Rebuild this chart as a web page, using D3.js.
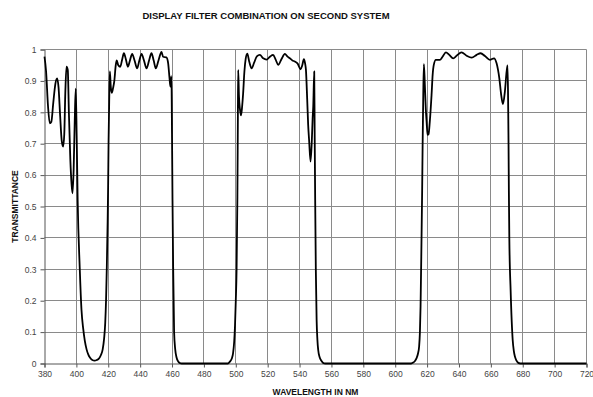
<!DOCTYPE html>
<html>
<head>
<meta charset="utf-8">
<script src="https://cdn.jsdelivr.net/npm/d3@7"></script>
<style>
  body { margin: 0; background: #fff; }
  text { font-family: "Liberation Sans", Arial, sans-serif; }
</style>
</head>
<body>
<div id="viz"></div>
<script>
// wavelength (nm) and transmittance
var nm = [
  380, 381, 382.2, 383.3, 384.3, 385.5, 386.8, 387.9, 388.8, 389.8, 390.8, 391.7, 392.4, 393.1, 393.8, 394.6,
  395.3, 396.2, 397.0, 397.6, 398.3, 399.0, 399.6, 400.2, 400.8, 402.1, 403.2, 404.3, 405.3, 406.4, 407.5,
  408.6, 410, 411.4, 412.8, 414.2, 415.4, 416.5, 417.4, 418.1, 418.6, 419.1, 419.6, 419.9, 420.2, 420.6,
  421.0, 421.6, 422.2, 423.0, 423.8, 424.7, 425.3, 426.3, 427.5, 428.8, 429.8, 431.0, 432.3, 433.6, 435.0,
  436.5, 438.1, 439.5, 440.9, 442.4, 444.0, 445.6, 447.1, 448.5, 449.8, 451.5, 453.4, 454.4, 456.5, 457.6,
  458.4, 459.0, 459.6, 460.0, 460.3, 460.7, 461.3, 462.0, 462.8, 463.8, 465, 466,
  495, 496.3, 497.5, 498.3, 499.0, 499.5, 500.0, 500.5, 501.0, 501.3, 501.5, 502.0, 502.6, 503.3, 504.0,
  504.6, 505.4, 506.2, 507.2, 508.5, 509.9, 511.5, 513.2, 515.1, 517.2, 519.3, 521.4, 523.4, 525.0, 526.6,
  528.7, 530.8, 532.3, 533.9, 535.5, 537.0, 538.8, 540.6, 541.7, 542.7, 543.5, 544.0, 544.8, 545.4, 546.0,
  546.9, 547.7, 548.2, 548.6, 549.2, 549.5, 549.8, 550.2, 550.7, 551.2, 551.7, 552.6, 553.8, 555, 556,
  610, 611.3, 612.4, 613.4, 614.3, 615.0, 615.5, 615.9, 616.5, 616.9, 617.2, 617.6, 618.0, 618.6, 619.2,
  619.7, 620.3, 620.9, 621.7, 622.8, 623.5, 624.2, 625.5, 628.0, 629.7, 631.8, 633.9, 636.4, 638.5, 641.6,
  644.8, 648.0, 651.1, 653.6, 656.3, 659.4, 662.0, 663.6, 664.5, 665.3, 666.5, 667.6, 668.8, 669.9, 670.5,
  670.9, 671.1, 671.3, 671.6, 672.4, 673.7, 674.4, 675.1, 676.0, 677.2, 678.5, 720
];
var trans = [
  0.977, 0.93, 0.82, 0.765, 0.77, 0.83, 0.89, 0.908, 0.88, 0.79, 0.71, 0.691, 0.73, 0.87, 0.945, 0.935,
  0.80, 0.65, 0.57, 0.542, 0.62, 0.78, 0.875, 0.72, 0.52, 0.305, 0.171, 0.11, 0.072, 0.045, 0.028,
  0.018, 0.011, 0.009, 0.011, 0.016, 0.027, 0.045, 0.08, 0.13, 0.2, 0.31, 0.45, 0.56, 0.71, 0.84,
  0.93, 0.88, 0.862, 0.877, 0.9, 0.95, 0.965, 0.95, 0.945, 0.97, 0.988, 0.97, 0.945, 0.965, 0.986,
  0.965, 0.94, 0.965, 0.986, 0.965, 0.94, 0.965, 0.988, 0.965, 0.94, 0.965, 0.992, 0.977, 0.975, 0.955,
  0.91, 0.882, 0.915, 0.72, 0.52, 0.309, 0.1, 0.045, 0.02, 0.007, 0.001, 0,
  0, 0.006, 0.016, 0.033, 0.07, 0.12, 0.2, 0.3, 0.53, 0.78, 0.935, 0.85, 0.81, 0.79, 0.82,
  0.86, 0.93, 0.97, 0.987, 0.96, 0.94, 0.958, 0.978, 0.983, 0.972, 0.968, 0.977, 0.983, 0.968, 0.951,
  0.97, 0.986, 0.978, 0.972, 0.965, 0.962, 0.955, 0.937, 0.95, 0.969, 0.955, 0.935, 0.84, 0.76, 0.71,
  0.643, 0.71, 0.78, 0.82, 0.93, 0.72, 0.52, 0.3, 0.139, 0.075, 0.043, 0.02, 0.008, 0.001, 0,
  0, 0.003, 0.008, 0.017, 0.032, 0.054, 0.1, 0.181, 0.394, 0.55, 0.696, 0.855, 0.953, 0.887, 0.81,
  0.77, 0.728, 0.73, 0.77, 0.855, 0.92, 0.951, 0.967, 0.967, 0.977, 0.991, 0.983, 0.972, 0.98, 0.991,
  0.98, 0.974, 0.983, 0.988, 0.979, 0.967, 0.972, 0.956, 0.935, 0.909, 0.855, 0.826, 0.866, 0.93, 0.949,
  0.802, 0.696, 0.55, 0.394, 0.234, 0.075, 0.04, 0.022, 0.01, 0.002, 0, 0
];
var xTicks = d3.range(380, 721, 20);
var yTicks = d3.range(0, 11).map(function(i) { return i / 10; });
var yTickLabels = ["0", "0.1", "0.2", "0.3", "0.4", "0.5", "0.6", "0.7", "0.8", "0.9", "1"];

var width = 593,
    height = 397;

var x = d3.scaleLinear().domain([380, 720]).range([44.5, 586.5]);
var y = d3.scaleLinear().domain([0, 1]).range([363.5, 49.5]);

var svg = d3.select("#viz").append("svg")
    .attr("width", width)
    .attr("height", height);

// title
svg.append("text")
    .attr("x", 266)
    .attr("y", 19)
    .attr("text-anchor", "middle")
    .style("font-size", "9.5px")
    .style("font-weight", "bold")
    .style("fill", "#111")
    .text("DISPLAY FILTER COMBINATION ON SECOND SYSTEM");

// grid
var px = function(v) { return Math.round(v - 0.5) + 0.5; };
svg.append("g").selectAll("line")
    .data(yTicks.slice(1))
    .join("line")
    .attr("x1", x(380)).attr("x2", x(720))
    .attr("y1", function(d) { return px(y(d)); })
    .attr("y2", function(d) { return px(y(d)); })
    .style("stroke", "#8a8a8a");

svg.append("g").selectAll("line")
    .data(xTicks.slice(1))
    .join("line")
    .attr("y1", y(0)).attr("y2", y(1))
    .attr("x1", function(d) { return px(x(d)); })
    .attr("x2", function(d) { return px(x(d)); })
    .style("stroke", "#8a8a8a");

// axes
var xAxis = svg.append("g")
    .attr("transform", "translate(0," + y(0) + ")")
    .call(d3.axisBottom(x).tickValues(xTicks).tickSize(4).tickPadding(3).tickFormat(d3.format("d")));
var yAxis = svg.append("g")
    .attr("transform", "translate(" + x(380) + ",0)")
    .call(d3.axisLeft(y).tickValues(yTicks).tickSize(4).tickPadding(4)
      .tickFormat(function(d, i) { return yTickLabels[i]; }));

[xAxis, yAxis].forEach(function(a) {
    a.select(".domain").style("stroke", "#555");
    a.selectAll(".tick line").style("stroke", "#555");
    a.selectAll("text")
        .style("font-family", "'Liberation Sans', Arial, sans-serif")
        .style("font-size", "8.5px")
        .style("fill", "#444");
});

// curve
var pts = nm.map(function(d, i) { return [d, trans[i]]; });
svg.append("path")
    .datum(pts)
    .attr("d", d3.line()
        .curve(d3.curveMonotoneX)
        .x(function(d) { return x(d[0]); })
        .y(function(d) { return y(d[1]); }))
    .style("fill", "none")
    .style("stroke", "#000")
    .style("stroke-width", 1.8)
    .style("stroke-linejoin", "round");

// axis titles
svg.append("text")
    .attr("x", (x(380) + x(720)) / 2)
    .attr("y", 395)
    .attr("text-anchor", "middle")
    .style("font-size", "8.5px")
    .style("font-weight", "bold")
    .style("fill", "#111")
    .text("WAVELENGTH IN NM");

svg.append("text")
    .attr("transform", "translate(18," + (y(0) + y(1)) / 2 + ") rotate(-90)")
    .attr("text-anchor", "middle")
    .style("font-size", "8.5px")
    .style("font-weight", "bold")
    .style("fill", "#111")
    .text("TRANSMITTANCE");
</script>
</body>
</html>
